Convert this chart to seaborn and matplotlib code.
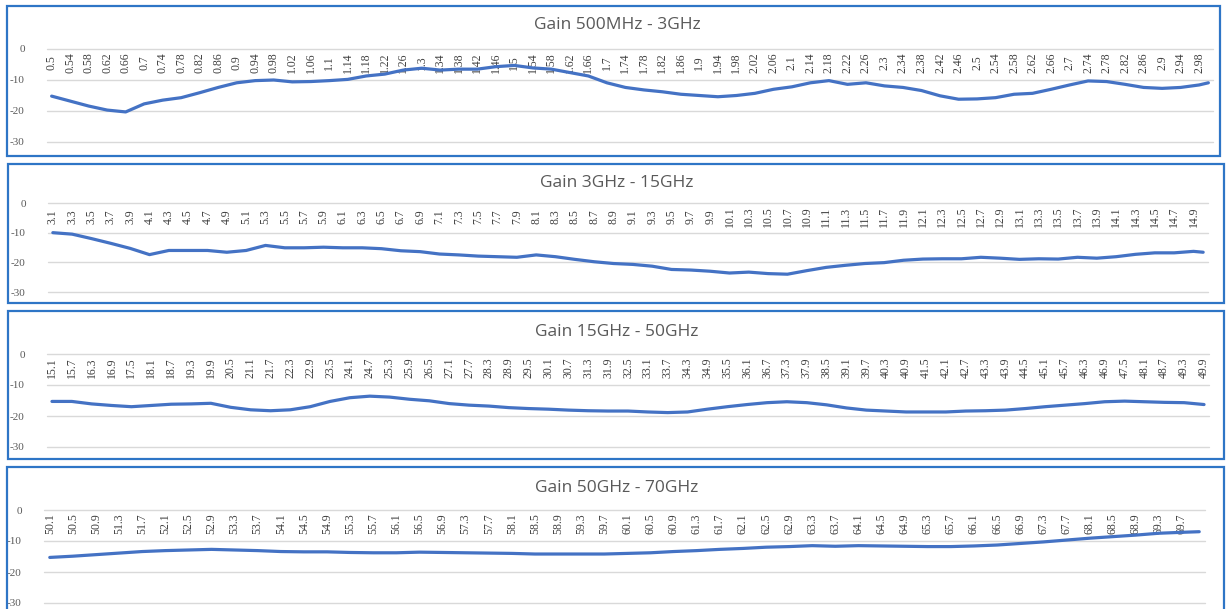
import numpy as np
import pandas as pd
import matplotlib
matplotlib.use('Agg')
import matplotlib.pyplot as plt
import seaborn as sns
from matplotlib.patches import Rectangle

# ---- data (frequency in GHz, gain in dB) ----
ticks_1 = [0.5, 0.54, 0.58, 0.62, 0.66, 0.7, 0.74, 0.78, 0.82, 0.86, 0.9, 0.94, 0.98,
           1.02, 1.06, 1.1, 1.14, 1.18, 1.22, 1.26, 1.3, 1.34, 1.38, 1.42, 1.46, 1.5,
           1.54, 1.58, 1.62, 1.66, 1.7, 1.74, 1.78, 1.82, 1.86, 1.9, 1.94, 1.98, 2.02,
           2.06, 2.1, 2.14, 2.18, 2.22, 2.26, 2.3, 2.34, 2.38, 2.42, 2.46, 2.5, 2.54,
           2.58, 2.62, 2.66, 2.7, 2.74, 2.78, 2.82, 2.86, 2.9, 2.94, 2.98]
freq_1 = ticks_1 + [3.0]
gain_1 = [-15.2, -16.8, -18.4, -19.7, -20.3, -17.7, -16.5, -15.7, -14.1, -12.4, -10.9, -10.2, -10.0,
          -10.6, -10.5, -10.2, -9.8, -8.7, -8.1, -6.8, -6.2, -6.8, -6.5, -6.5, -5.7, -5.3,
          -6.1, -6.5, -7.6, -8.7, -10.9, -12.4, -13.2, -13.8, -14.6, -15.0, -15.4, -15.0, -14.3,
          -13.0, -12.2, -10.9, -10.2, -11.4, -10.9, -11.9, -12.4, -13.4, -15.1, -16.2, -16.1, -15.7,
          -14.6, -14.3, -13.0, -11.6, -10.3, -10.5, -11.4, -12.4, -12.7, -12.4, -11.6, -10.9]

ticks_2 = [3.1, 3.3, 3.5, 3.7, 3.9, 4.1, 4.3, 4.5, 4.7, 4.9, 5.1, 5.3, 5.5, 5.7, 5.9, 6.1,
           6.3, 6.5, 6.7, 6.9, 7.1, 7.3, 7.5, 7.7, 7.9, 8.1, 8.3, 8.5, 8.7, 8.9, 9.1, 9.3,
           9.5, 9.7, 9.9, 10.1, 10.3, 10.5, 10.7, 10.9, 11.1, 11.3, 11.5, 11.7, 11.9, 12.1,
           12.3, 12.5, 12.7, 12.9, 13.1, 13.3, 13.5, 13.7, 13.9, 14.1, 14.3, 14.5, 14.7, 14.9]
freq_2 = ticks_2 + [15.0]
gain_2 = [-10.0, -10.5, -12.0, -13.6, -15.3, -17.4, -16.0, -16.0, -16.0, -16.6, -16.0, -14.3,
          -15.1, -15.1, -14.9, -15.1, -15.1, -15.4, -16.1, -16.4, -17.2, -17.5, -17.9, -18.1,
          -18.3, -17.5, -18.1, -19.0, -19.8, -20.4, -20.7, -21.3, -22.4, -22.6, -23.0, -23.6,
          -23.3, -23.8, -24.0, -22.8, -21.7, -21.0, -20.4, -20.1, -19.3, -18.9, -18.8, -18.8,
          -18.3, -18.6, -19.0, -18.8, -18.9, -18.3, -18.6, -18.1, -17.3, -16.8, -16.8, -16.3, -16.6]

ticks_3 = [15.1, 15.7, 16.3, 16.9, 17.5, 18.1, 18.7, 19.3, 19.9, 20.5, 21.1, 21.7, 22.3,
           22.9, 23.5, 24.1, 24.7, 25.3, 25.9, 26.5, 27.1, 27.7, 28.3, 28.9, 29.5, 30.1,
           30.7, 31.3, 31.9, 32.5, 33.1, 33.7, 34.3, 34.9, 35.5, 36.1, 36.7, 37.3, 37.9,
           38.5, 39.1, 39.7, 40.3, 40.9, 41.5, 42.1, 42.7, 43.3, 43.9, 44.5, 45.1, 45.7,
           46.3, 46.9, 47.5, 48.1, 48.7, 49.3, 49.9]
freq_3 = ticks_3
gain_3 = [-15.3, -15.3, -16.1, -16.6, -17.0, -16.6, -16.2, -16.1, -15.9, -17.2, -18.0, -18.3, -18.0,
          -17.0, -15.3, -14.1, -13.6, -13.9, -14.6, -15.1, -16.0, -16.5, -16.8, -17.3, -17.6, -17.8,
          -18.1, -18.3, -18.4, -18.4, -18.7, -18.9, -18.7, -17.8, -17.0, -16.3, -15.7, -15.4, -15.7,
          -16.4, -17.4, -18.1, -18.4, -18.7, -18.7, -18.7, -18.4, -18.3, -18.1, -17.6, -17.0, -16.5,
          -16.0, -15.4, -15.2, -15.4, -15.6, -15.7, -16.3]

ticks_4 = [50.1, 50.5, 50.9, 51.3, 51.7, 52.1, 52.5, 52.9, 53.3, 53.7, 54.1, 54.5, 54.9,
           55.3, 55.7, 56.1, 56.5, 56.9, 57.3, 57.7, 58.1, 58.5, 58.9, 59.3, 59.7, 60.1,
           60.5, 60.9, 61.3, 61.7, 62.1, 62.5, 62.9, 63.3, 63.7, 64.1, 64.5, 64.9, 65.3,
           65.7, 66.1, 66.5, 66.9, 67.3, 67.7, 68.1, 68.5, 68.9, 69.3, 69.7]
freq_4 = ticks_4 + [70.0]
gain_4 = [-15.3, -14.9, -14.4, -13.9, -13.4, -13.1, -12.9, -12.7, -12.9, -13.1, -13.4, -13.5, -13.5,
          -13.7, -13.8, -13.8, -13.6, -13.7, -13.8, -13.9, -14.0, -14.2, -14.2, -14.2, -14.2, -14.0,
          -13.8, -13.4, -13.1, -12.7, -12.4, -12.0, -11.8, -11.5, -11.7, -11.5, -11.6, -11.7, -11.8,
          -11.8, -11.6, -11.3, -10.8, -10.3, -9.7, -9.1, -8.6, -8.1, -7.5, -7.2, -7.0]

titles = ['Gain 500MHz - 3GHz', 'Gain 3GHz - 15GHz', 'Gain 15GHz - 50GHz', 'Gain 50GHz - 70GHz']
y_ticks = [0, -10, -20, -30]

# ---- style ----
sns.set_style('white')
plt.rcParams['font.family'] = ['Liberation Serif', 'DejaVu Sans']

W, H = 1226, 609
fig = plt.figure(figsize=(W / 100, H / 100), dpi=100)
fig.patch.set_facecolor('white')

BLUE = '#2E75C6'
LINE = '#4472C4'
GRID = '#D9D9D9'

# layout in pixels: frame box, plot box (left, top, right, bottom), xlim, title y
panels = [
    dict(frame=(7, 6, 1220, 156), plot=(47, 49, 1213, 142), xlim=(0.49, 3.01), ty=25),
    dict(frame=(8, 164, 1224, 303), plot=(48, 203, 1208, 292), xlim=(3.05, 15.05), ty=183),
    dict(frame=(8, 311, 1224, 459), plot=(47, 354, 1209, 447), xlim=(14.95, 50.05), ty=332),
    dict(frame=(7, 467, 1224, 640), plot=(44, 510, 1205, 603), xlim=(50.0, 70.1), ty=488),
]
series = [(freq_1, gain_1, ticks_1), (freq_2, gain_2, ticks_2),
          (freq_3, gain_3, ticks_3), (freq_4, gain_4, ticks_4)]

for p, (freq, gain, ticks), title in zip(panels, series, titles):
    x0, y0, x1, y1 = p['frame']
    fig.add_artist(Rectangle((x0 / W, 1 - y1 / H), (x1 - x0) / W, (y1 - y0) / H,
                             transform=fig.transFigure, fill=False, ec=BLUE, lw=1.6))
    l, t, r, b = p['plot']
    ax = fig.add_axes([l / W, 1 - b / H, (r - l) / W, (b - t) / H])

    df = pd.DataFrame({'freq': freq, 'gain': gain})
    sns.lineplot(data=df, x='freq', y='gain', ax=ax, color=LINE, lw=2.3)

    ax.set_xlim(*p['xlim'])
    ax.set_ylim(-30, 0)
    ax.set_xlabel('')
    ax.set_ylabel('')
    for s in ax.spines.values():
        s.set_visible(False)

    ax.set_yticks(y_ticks)
    ax.set_yticklabels([str(v) for v in y_ticks])
    ax.tick_params(axis='y', length=0, pad=16, labelsize=8, labelcolor='#595959')
    ax.yaxis.grid(True, color=GRID, lw=1)
    for gl in ax.get_ygridlines():
        gl.set_clip_on(False)
    ax.xaxis.grid(False)

    ax.tick_params(axis='x', bottom=False, top=False, labelbottom=False, labeltop=True,
                   length=0, pad=-10)
    ax.set_xticks(ticks, [f'{v:g}' for v in ticks], rotation=90, va='center', ha='center',
                  fontsize=8.5, color='#404040')

    fig.text(617 / W, 1 - p['ty'] / H, title, ha='center', va='center', fontsize=12.5,
             color='#595959', family=['Open Sans', 'DejaVu Sans'])

fig.savefig('out.png', dpi=100, facecolor='white')
